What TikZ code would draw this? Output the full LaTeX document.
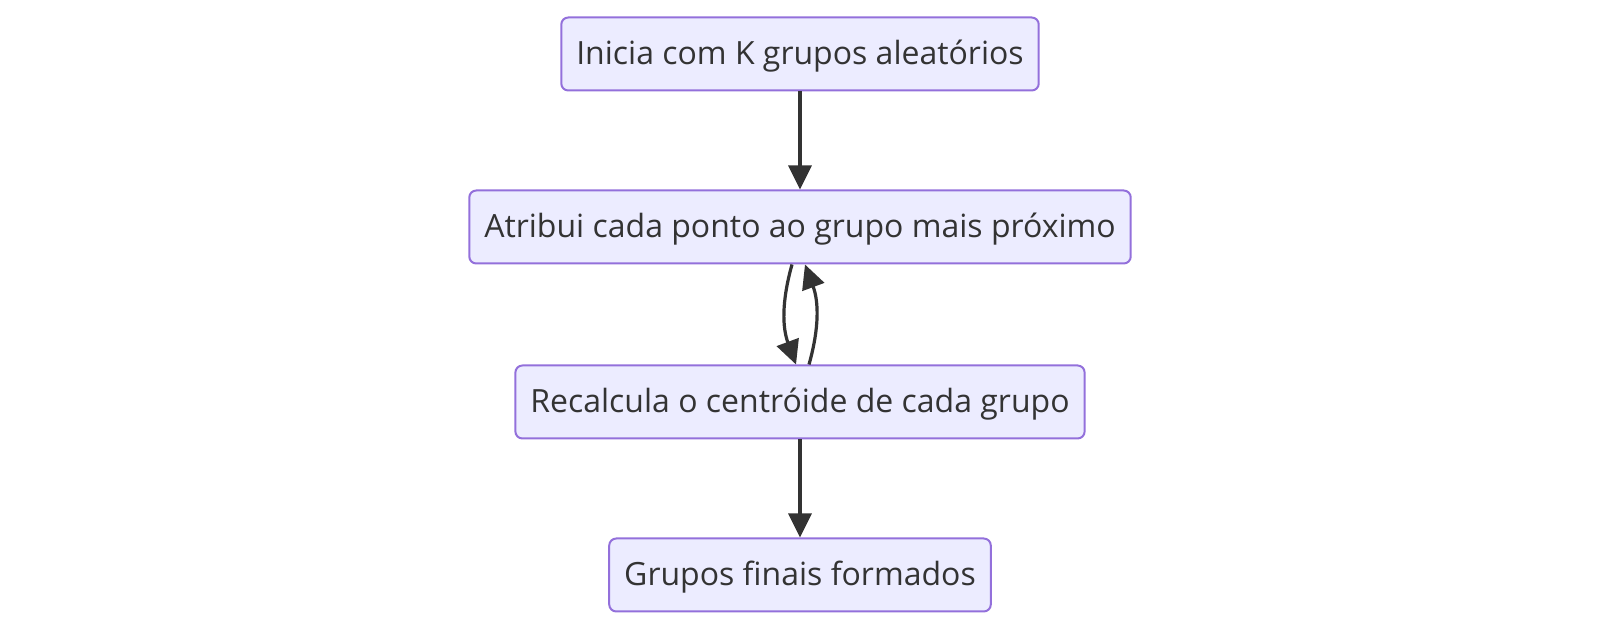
\documentclass[tikz,border=0pt]{standalone}
\usepackage{fontspec}
\setmainfont{Open Sans}
\usepackage{xcolor}
\usetikzlibrary{arrows.meta,calc}
\definecolor{boxfill}{HTML}{ECECFF}
\definecolor{boxline}{HTML}{9370DB}
\definecolor{ink}{HTML}{333333}
\tikzset{
	stepbox/.style={
			draw=boxline, fill=boxfill, line width=2pt, rounded corners=7pt,
			minimum height=73pt, inner xsep=15pt, text=ink,
			text height=30pt, text depth=8pt,
			font=\fontsize{32}{38}\selectfont
		},
	flow/.style={
			draw=ink, line width=3.2pt,
			-{Triangle[length=24pt,width=23pt]}
		}
}
\begin{document}
\begin{tikzpicture}[x=1pt,y=1pt]

			\useasboundingbox (0,0) rectangle (1600,628);

			% the four steps
			\node[stepbox, minimum width=476pt] (inicia) at (800,574) {Inicia com K grupos aleatórios};
			\node[stepbox, minimum width=660pt] (atribui) at (800,401) {Atribui cada ponto ao grupo mais próximo};
			\node[stepbox, minimum width=568pt] (recalcula) at (800,226) {Recalcula o centróide de cada grupo};
			\node[stepbox, minimum width=380pt] (finais) at (800,53) {Grupos finais formados};

			% connectors
			\draw[flow] ([xshift=-8pt]atribui.south) to[bend right=18] ([xshift=-4pt]recalcula.north);
			\draw[flow] ([xshift=9pt]recalcula.north) to[bend right=18] ([xshift=5pt]atribui.south);
			\draw[flow] (inicia) -- (atribui);
			\draw[flow] (recalcula) -- (finais);

		\end{tikzpicture}
\end{document}
